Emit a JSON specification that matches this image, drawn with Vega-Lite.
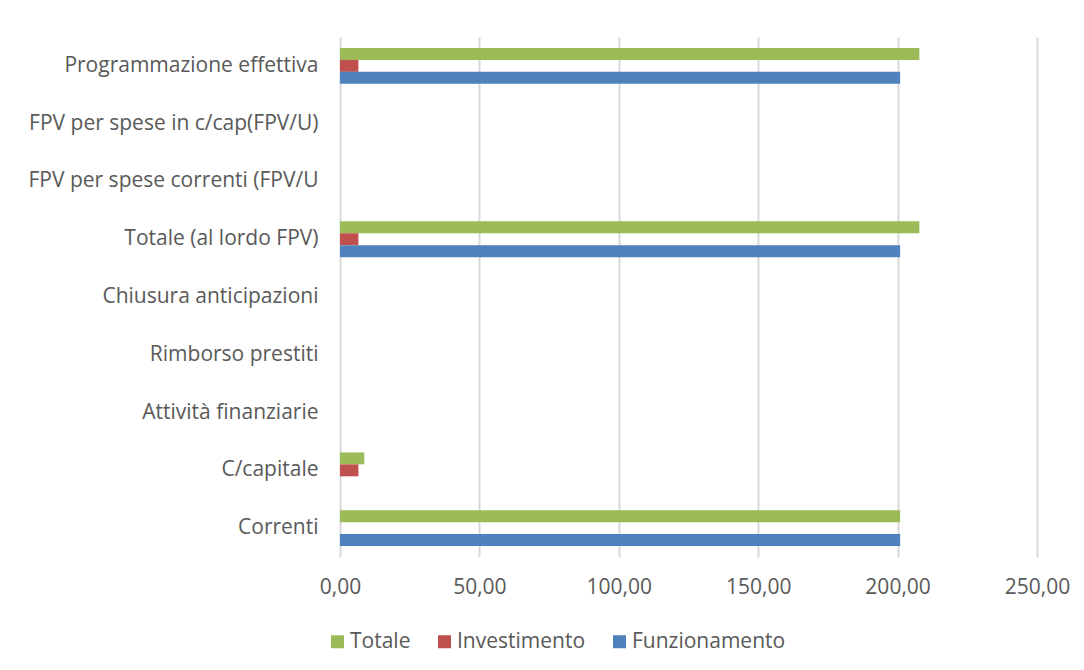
{
  "$schema": "https://vega.github.io/schema/vega-lite/v6.json",
  "autosize": "none",
  "width": 697,
  "height": 520,
  "padding": {"left": 340, "top": 37, "right": 47, "bottom": 113},
  "background": "white",
  "config": {
    "locale": {"number": {"decimal": ",", "thousands": ".", "grouping": [3], "currency": ["€", ""]}},
    "view": {"stroke": null},
    "font": "Open Sans"
  },
  "data": {
    "values": [
      {"categoria": "Correnti", "serie": "Totale", "valore": 200.9},
      {"categoria": "Correnti", "serie": "Investimento", "valore": 0},
      {"categoria": "Correnti", "serie": "Funzionamento", "valore": 200.9},
      {"categoria": "C/capitale", "serie": "Totale", "valore": 8.7},
      {"categoria": "C/capitale", "serie": "Investimento", "valore": 6.6},
      {"categoria": "C/capitale", "serie": "Funzionamento", "valore": 0},
      {"categoria": "Attività finanziarie", "serie": "Totale", "valore": 0},
      {"categoria": "Attività finanziarie", "serie": "Investimento", "valore": 0},
      {"categoria": "Attività finanziarie", "serie": "Funzionamento", "valore": 0},
      {"categoria": "Rimborso prestiti", "serie": "Totale", "valore": 0},
      {"categoria": "Rimborso prestiti", "serie": "Investimento", "valore": 0},
      {"categoria": "Rimborso prestiti", "serie": "Funzionamento", "valore": 0},
      {"categoria": "Chiusura anticipazioni", "serie": "Totale", "valore": 0},
      {"categoria": "Chiusura anticipazioni", "serie": "Investimento", "valore": 0},
      {"categoria": "Chiusura anticipazioni", "serie": "Funzionamento", "valore": 0},
      {"categoria": "Totale (al lordo FPV)", "serie": "Totale", "valore": 207.8},
      {"categoria": "Totale (al lordo FPV)", "serie": "Investimento", "valore": 6.6},
      {"categoria": "Totale (al lordo FPV)", "serie": "Funzionamento", "valore": 200.9},
      {"categoria": "FPV per spese correnti (FPV/U", "serie": "Totale", "valore": 0},
      {"categoria": "FPV per spese correnti (FPV/U", "serie": "Investimento", "valore": 0},
      {"categoria": "FPV per spese correnti (FPV/U", "serie": "Funzionamento", "valore": 0},
      {"categoria": "FPV per spese in c/cap(FPV/U)", "serie": "Totale", "valore": 0},
      {"categoria": "FPV per spese in c/cap(FPV/U)", "serie": "Investimento", "valore": 0},
      {"categoria": "FPV per spese in c/cap(FPV/U)", "serie": "Funzionamento", "valore": 0},
      {"categoria": "Programmazione effettiva", "serie": "Totale", "valore": 207.8},
      {"categoria": "Programmazione effettiva", "serie": "Investimento", "valore": 6.6},
      {"categoria": "Programmazione effettiva", "serie": "Funzionamento", "valore": 200.9}
    ]
  },
  "mark": {"type": "bar"},
  "encoding": {
    "y": {
      "field": "categoria",
      "type": "nominal",
      "sort": ["Programmazione effettiva", "FPV per spese in c/cap(FPV/U)", "FPV per spese correnti (FPV/U", "Totale (al lordo FPV)", "Chiusura anticipazioni", "Rimborso prestiti", "Attività finanziarie", "C/capitale", "Correnti"],
      "scale": {"paddingInner": 0.38, "paddingOuter": 0.19},
      "axis": {
        "title": null,
        "ticks": false,
        "domain": false,
        "labelFontSize": 21,
        "labelColor": "#595959",
        "labelPadding": 22,
        "labelLimit": 400
      }
    },
    "yOffset": {
      "field": "serie",
      "type": "nominal",
      "scale": {"domain": ["Totale", "Investimento", "Funzionamento"], "paddingInner": 0, "paddingOuter": 0}
    },
    "x": {
      "field": "valore",
      "type": "quantitative",
      "scale": {"domain": [0, 250], "nice": false},
      "axis": {
        "title": null,
        "values": [0, 50, 100, 150, 200, 250],
        "format": ".2f",
        "ticks": false,
        "domain": false,
        "grid": true,
        "gridColor": "#D9D9D9",
        "gridWidth": 2,
        "labelFontSize": 21,
        "labelColor": "#595959",
        "labelPadding": 19,
        "labelFlush": false
      }
    },
    "color": {
      "field": "serie",
      "type": "nominal",
      "scale": {"domain": ["Totale", "Investimento", "Funzionamento"], "range": ["#9BBB59", "#C0504D", "#4F81BD"]},
      "legend": {
        "title": null,
        "orient": "none",
        "direction": "horizontal",
        "legendX": -13,
        "legendY": 594,
        "symbolType": "square",
        "symbolSize": 169,
        "symbolStrokeWidth": 0,
        "labelFontSize": 21,
        "labelColor": "#595959",
        "labelOffset": 2,
        "columnPadding": 23
      }
    }
  }
}
